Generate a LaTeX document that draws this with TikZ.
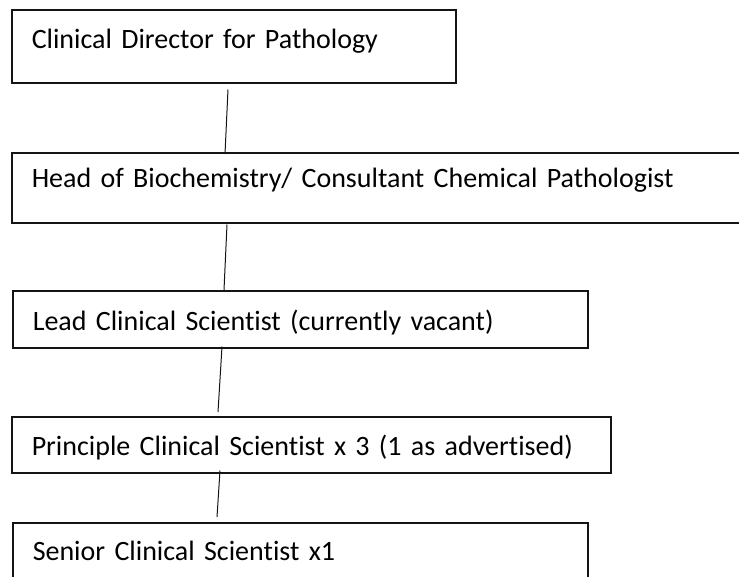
\documentclass[tikz,border=0pt]{standalone}
\usepackage{fontspec}
\setmainfont{Carlito}[Ligatures=NoCommon]
\usepackage{tikz}
\definecolor{boxline}{RGB}{20, 20, 20}
\newcommand{\postfont}{\fontsize{28}{34}\selectfont}

\begin{document}
\begin{tikzpicture}[x=1pt, y=-1pt,
    post/.style={draw=boxline, line width=1.5pt, anchor=north west, inner xsep=20pt, inner ysep=0pt, align=left, font=\postfont},
    link/.style={draw=boxline, line width=1pt}]
    \useasboundingbox (0,0) rectangle (739,576);

    \node[post, text width=404pt, text height=39pt, text depth=34pt] (director) at (11,9) {Clinical Director for Pathology};
    \node[post, text width=700pt, text height=35pt, text depth=35pt] (head) at (11,152) {Head of Biochemistry/ Consultant Chemical Pathologist};
    \node[post, text width=535pt, text height=40pt, text depth=17pt] (lead) at (12,290) {Lead Clinical Scientist (currently vacant)};
    \node[post, text width=559pt, text height=39pt, text depth=17pt] (principle) at (11,416) {Principle Clinical Scientist x 3 (1 as advertised)};
    \node[post, text width=535pt, text height=38pt, text depth=40pt] (senior) at (12,522) {Senior Clinical Scientist x1};

    \draw[link] ([xshift=217pt, yshift=-6pt]director.south west) -- ([xshift=214pt, yshift=-2pt]head.north west);
    \draw[link] ([xshift=216pt, yshift=-1pt]head.south west) -- ([xshift=212pt]lead.north west);
    \draw[link] ([xshift=210pt, yshift=2pt]lead.south west) -- ([xshift=207pt, yshift=4pt]principle.north west);
    \draw[link] ([xshift=209pt, yshift=3pt]principle.south west) -- ([xshift=205pt, yshift=5pt]senior.north west);
\end{tikzpicture}
\end{document}
